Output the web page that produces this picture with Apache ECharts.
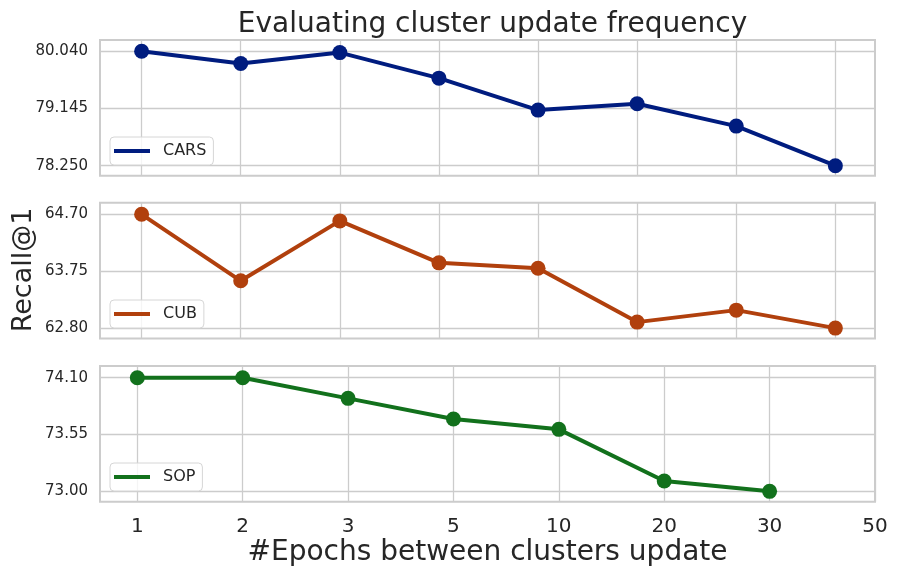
<!DOCTYPE html>
<html>
<head>
<meta charset="utf-8">
<script src="https://cdn.jsdelivr.net/npm/echarts@6/dist/echarts.min.js"></script>
<style>
  html, body { margin: 0; padding: 0; background: #fff; }
  #chart { width: 898px; height: 579px; }
</style>
</head>
<body>
<div id="chart"></div>
<script>
const xTickLabels = ['1', '2', '3', '5', '10', '20', '30', '50'];
const xTickIndex = [0, 1, 2, 3, 4, 5, 6, 7];

const carsValues = [80.04, 79.85, 80.02, 79.62, 79.12, 79.22, 78.87, 78.25];
const cubValues = [64.70, 63.59, 64.59, 63.89, 63.80, 62.90, 63.10, 62.80];
const sopValues = [74.10, 74.10, 73.90, 73.70, 73.60, 73.10, 73.00];

const carsTicks = [78.25, 79.145, 80.04];
const cubTicks = [62.80, 63.75, 64.70];
const sopTicks = [73.00, 73.55, 74.10];

const FONT = 'DejaVu Sans';
const TEXT = '#262626';
const GRIDC = '#cccccc';

const panels = [
  { name: 'CARS', values: carsValues, ticks: carsTicks, digits: 3, color: '#001c7f',
    top: 40, ymin: 78.094, ymax: 80.217, xmin: -0.42, xmax: 7.4, legendTop: 137 },
  { name: 'CUB', values: cubValues, ticks: cubTicks, digits: 2, color: '#b1400d',
    top: 202.7, ymin: 62.628, ymax: 64.894, xmin: -0.42, xmax: 7.4, legendTop: 300 },
  { name: 'SOP', values: sopValues, ticks: sopTicks, digits: 2, color: '#12711c',
    top: 366, ymin: 72.90, ymax: 74.213, xmin: -0.354, xmax: 7, legendTop: 463 }
];

const chart = echarts.init(document.getElementById('chart'), null, { renderer: 'canvas' });

const option = {
  backgroundColor: '#fff',
  animation: false,
  textStyle: { fontFamily: FONT, color: TEXT },
  title: {
    text: 'Evaluating cluster update frequency',
    left: 487.5,
    textAlign: 'center',
    top: 6,
    textStyle: { fontFamily: FONT, fontSize: 28, fontWeight: 'normal', color: TEXT }
  },
  grid: panels.map(p => ({
    left: 100, right: 23, top: p.top, height: 135.7,
    show: true, borderColor: GRIDC, borderWidth: 2, backgroundColor: '#fff'
  })),
  xAxis: panels.map((p, i) => ({
    type: 'value',
    gridIndex: i,
    min: p.xmin,
    max: p.xmax,
    axisLine: { show: false },
    axisTick: { show: false, customValues: xTickIndex },
    splitLine: { show: true, lineStyle: { color: GRIDC, width: 1.3 } },
    axisLabel: {
      show: i === 2,
      customValues: xTickIndex,
      margin: 15,
      fontFamily: FONT,
      fontSize: 20,
      color: TEXT,
      formatter: v => xTickLabels[Math.round(v)]
    }
  })),
  yAxis: panels.map((p, i) => ({
    type: 'value',
    gridIndex: i,
    min: p.ymin,
    max: p.ymax,
    axisLine: { show: false },
    axisTick: { show: false, customValues: p.ticks },
    splitLine: { show: true, lineStyle: { color: GRIDC, width: 1.3 } },
    axisLabel: {
      customValues: p.ticks,
      margin: 12,
      fontFamily: FONT,
      fontSize: 15,
      color: TEXT,
      formatter: v => v.toFixed(p.digits)
    }
  })),
  legend: panels.map(p => ({
    data: [p.name],
    left: 110,
    top: p.legendTop,
    orient: 'vertical',
    icon: 'rect',
    itemWidth: 36,
    itemHeight: 4,
    padding: [6, 7, 6, 4],
    backgroundColor: 'rgba(255,255,255,0.8)',
    borderColor: '#d6d6d6',
    borderWidth: 1,
    borderRadius: 4,
    textStyle: { fontFamily: FONT, fontSize: 16, color: TEXT, padding: [0, 0, 0, 8] }
  })),
  graphic: [
    {
      type: 'text',
      x: 24,
      y: 270,
      rotation: Math.PI / 2,
      style: {
        text: 'Recall@1',
        font: '27px "DejaVu Sans"',
        fill: TEXT,
        textAlign: 'center',
        textVerticalAlign: 'middle'
      }
    },
    {
      type: 'text',
      x: 487.5,
      y: 553,
      style: {
        text: '#Epochs between clusters update',
        font: '28px "DejaVu Sans"',
        fill: TEXT,
        textAlign: 'center',
        textVerticalAlign: 'middle'
      }
    }
  ],
  series: panels.map((p, i) => ({
    name: p.name,
    type: 'line',
    xAxisIndex: i,
    yAxisIndex: i,
    data: p.values.map((v, k) => [k, v]),
    symbol: 'circle',
    symbolSize: 15,
    showAllSymbol: true,
    clip: false,
    lineStyle: { color: p.color, width: 4 },
    itemStyle: { color: p.color },
    emphasis: { disabled: true }
  }))
};

chart.setOption(option);
</script>
</body>
</html>
